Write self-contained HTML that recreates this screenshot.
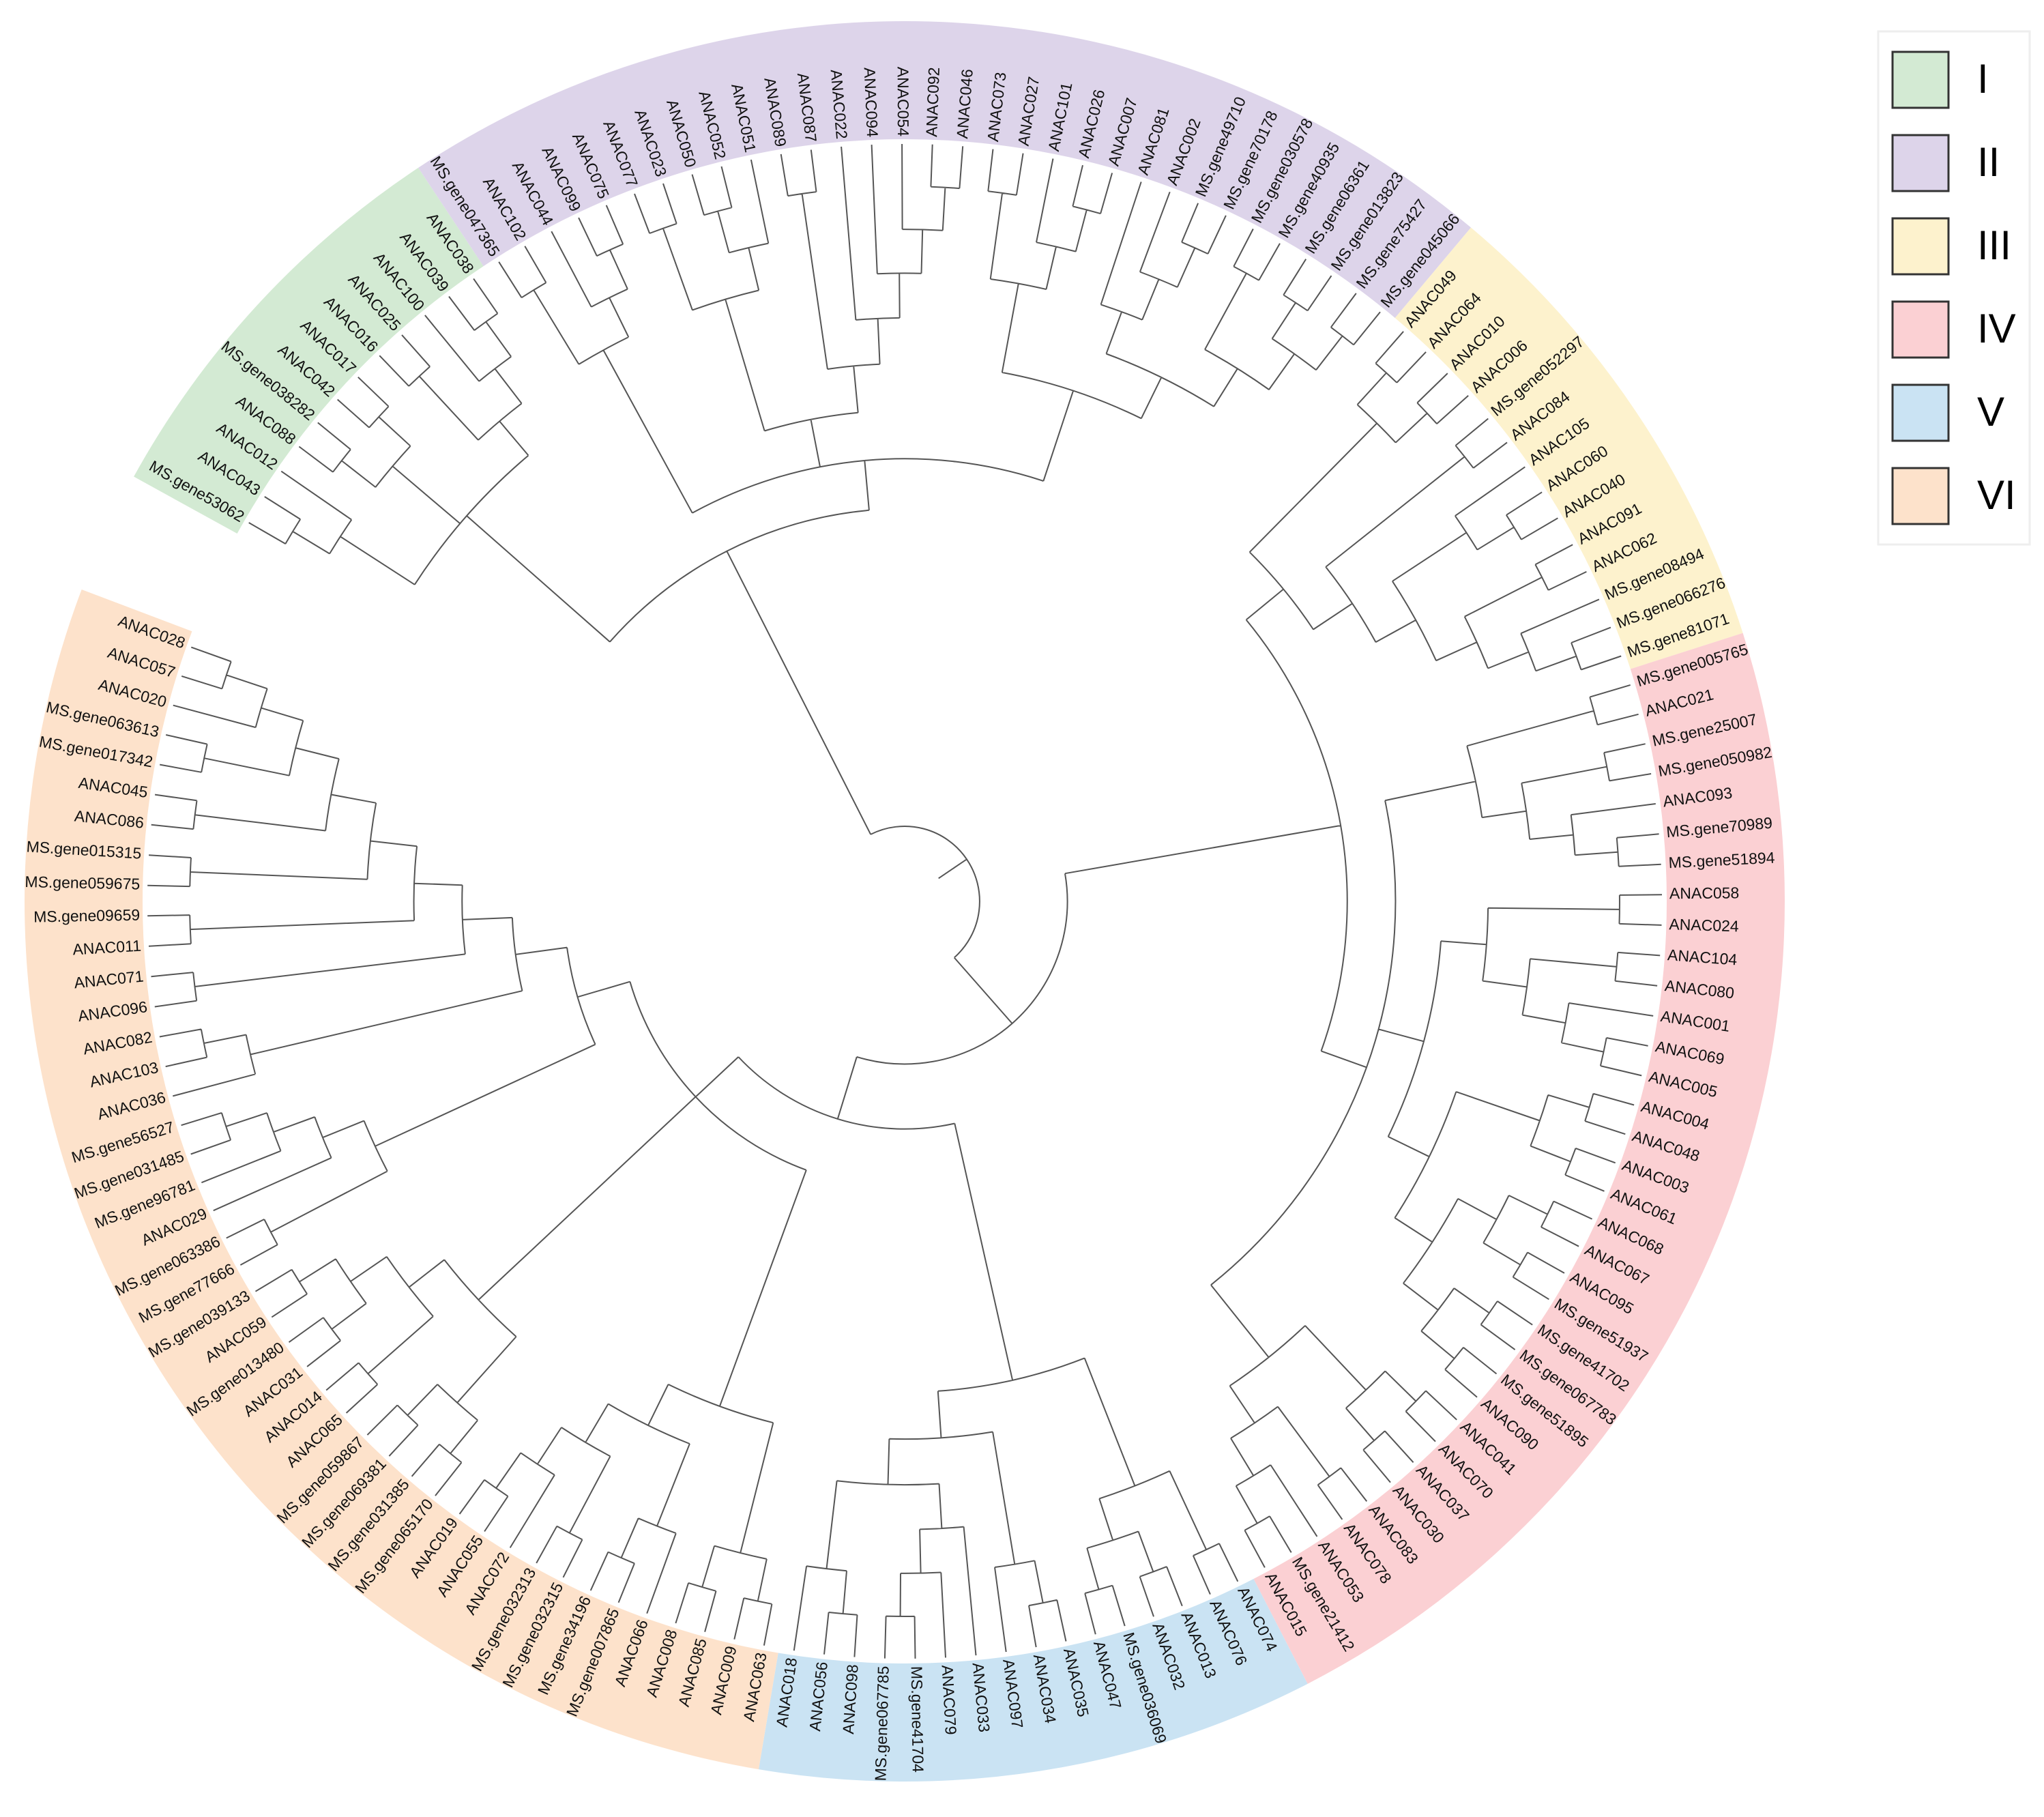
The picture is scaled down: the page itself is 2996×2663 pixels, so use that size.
<!DOCTYPE html>
<html><head><meta charset="utf-8"><style>
html,body{margin:0;padding:0;background:#fff;}
svg{display:block;}
text{font-family:"Liberation Sans",sans-serif;}
</style></head><body>
<svg id="tree" width="2996" height="2663" viewBox="0 0 2996 2663" xmlns="http://www.w3.org/2000/svg">
<g id="bands"></g>
<g id="branches"></g>
<g id="labels"></g>
<g id="legend">
<rect x="2753" y="46" width="222" height="752" fill="#fff" stroke="#eee" stroke-width="3"/>
</g>
</svg>
<script>
const groupNames = ["I","II","III","IV","V","VI"];
const groupColors = ["#d3ead3","#ddd4ea","#fdf2cd","#fbd0d3","#cae3f3","#fde2cb"];
const groupTrees = [
"(((MS.gene53062,ANAC043),ANAC012),((ANAC088,MS.gene038282),(ANAC042,ANAC017)),((ANAC016,ANAC025),(ANAC100,(ANAC039,ANAC038))))",
"(((MS.gene047365,ANAC102),(ANAC044,(ANAC099,ANAC075))),(((ANAC077,ANAC023),((ANAC050,ANAC052),ANAC051)),((ANAC089,ANAC087),(ANAC022,(ANAC094,(ANAC054,(ANAC092,ANAC046)))))),(((ANAC073,ANAC027),(ANAC101,(ANAC026,ANAC007))),((ANAC081,(ANAC002,(MS.gene49710,MS.gene70178))),((MS.gene030578,MS.gene40935),((MS.gene06361,MS.gene013823),(MS.gene75427,MS.gene045066))))))",
"(((ANAC049,ANAC064),(ANAC010,ANAC006)),((MS.gene052297,ANAC084),((ANAC105,(ANAC060,ANAC040)),((ANAC091,ANAC062),(MS.gene08494,(MS.gene066276,MS.gene81071))))))",
"(((MS.gene005765,ANAC021),((MS.gene25007,MS.gene050982),(ANAC093,(MS.gene70989,MS.gene51894)))),(((ANAC058,ANAC024),((ANAC104,ANAC080),(ANAC001,(ANAC069,ANAC005)))),(((ANAC004,ANAC048),(ANAC003,ANAC061)),(((ANAC068,ANAC067),(ANAC095,MS.gene51937)),((MS.gene41702,MS.gene067783),(MS.gene51895,ANAC090))))),(((ANAC041,ANAC070),(ANAC037,ANAC030)),((ANAC083,ANAC078),(ANAC053,(MS.gene21412,ANAC015)))))",
"(((ANAC074,ANAC076),((ANAC013,ANAC032),(MS.gene036069,ANAC047))),(((ANAC035,ANAC034),ANAC097),((ANAC033,(ANAC079,(MS.gene41704,MS.gene067785))),((ANAC098,ANAC056),ANAC018))))",
"((((ANAC063,ANAC009),(ANAC085,ANAC008)),((ANAC066,(MS.gene007865,MS.gene34196)),((MS.gene032315,MS.gene032313),(ANAC072,(ANAC055,ANAC019))))),(((MS.gene065170,MS.gene031385),(MS.gene069381,MS.gene059867)),((ANAC065,ANAC014),((ANAC031,MS.gene013480),(ANAC059,MS.gene039133)))),(((MS.gene77666,MS.gene063386),(ANAC029,(MS.gene96781,(MS.gene031485,MS.gene56527)))),((ANAC036,(ANAC103,ANAC082)),((ANAC096,ANAC071),((ANAC011,MS.gene09659),((MS.gene059675,MS.gene015315),((ANAC086,ANAC045),((MS.gene017342,MS.gene063613),(ANAC020,(ANAC057,ANAC028))))))))))"
];
const rootTopology = "((0,1),((2,3),(4,5)))";

const NS="http://www.w3.org/2000/svg";
const CX=1326, CY=1321, R_ROOT=110, R_LEAF=1110, R_IN=1117, R_OUT=1290;
const A_START=210, A_STEP=2.3;

function parse(s){let i=0;function node(){if(s[i]==='('){i++;const ch=[node()];while(s[i]===','){i++;ch.push(node());}i++;return {children:ch};}let n='';while(i<s.length&&!',()'.includes(s[i]))n+=s[i++];return {name:n};}return node();}
const groupParsed=groupTrees.map(parse);
function build(t){if(t.children)return {children:t.children.map(build)};const g=+t.name;return groupParsed[g];}
const root=build(parse(rootTopology));
const leaves=[];const leafGroup=[];
groupParsed.forEach((g,gi)=>{(function walk(n){if(n.children)n.children.forEach(walk);else{leaves.push(n);leafGroup.push(gi);}})(g);});
let idx=0;
function layout(n){if(!n.children){n.ang=A_START+idx*A_STEP;n.h=0;n.i=idx;idx++;return;}n.children.forEach(layout);n.h=1+Math.max(...n.children.map(c=>c.h));n.ang=(n.children[0].ang+n.children[n.children.length-1].ang)/2;}
layout(root);
const H=root.h;
function setR(n){n.r=R_ROOT+(R_LEAF-R_ROOT)*Math.pow(1-n.h/H,0.8);if(n.children)n.children.forEach(setR);}
setR(root);
function pt(r,a){const t=a*Math.PI/180;return [CX+r*Math.cos(t),CY+r*Math.sin(t)];}
const br=document.getElementById('branches');
let d='';
(function draw(n){if(!n.children)return;const a1=n.children[0].ang,a2=n.children[n.children.length-1].ang;const p1=pt(n.r,a1),p2=pt(n.r,a2);d+=`M${p1[0].toFixed(1)},${p1[1].toFixed(1)}A${n.r},${n.r} 0 ${a2-a1>180?1:0} 1 ${p2[0].toFixed(1)},${p2[1].toFixed(1)}`;n.children.forEach(c=>{const q1=pt(n.r,c.ang),q2=pt(c.r,c.ang);d+=`M${q1[0].toFixed(1)},${q1[1].toFixed(1)}L${q2[0].toFixed(1)},${q2[1].toFixed(1)}`;draw(c);});})(root);
const rp=pt(R_ROOT,root.ang);const rs=pt(R_ROOT-50,root.ang);
d+=`M${rs[0].toFixed(1)},${rs[1].toFixed(1)}L${rp[0].toFixed(1)},${rp[1].toFixed(1)}`;
const path=document.createElementNS(NS,'path');
path.setAttribute('d',d);path.setAttribute('fill','none');path.setAttribute('stroke','#555');path.setAttribute('stroke-width','2');


br.appendChild(path);
const bands=document.getElementById('bands');
groupNames.forEach((gn,gi)=>{const ids=leaves.map((l,k)=>leafGroup[k]===gi?l.i:null).filter(v=>v!==null);const a1=A_START+Math.min(...ids)*A_STEP-A_STEP/2,a2=A_START+Math.max(...ids)*A_STEP+A_STEP/2;const o1=pt(R_OUT,a1),o2=pt(R_OUT,a2),i1=pt(R_IN,a1),i2=pt(R_IN,a2);const lg=a2-a1>180?1:0;
const p=document.createElementNS(NS,'path');
p.setAttribute('d',`M${i1}L${o1}A${R_OUT},${R_OUT} 0 ${lg} 1 ${o2}L${i2}A${R_IN},${R_IN} 0 ${lg} 0 ${i1}Z`);
p.setAttribute('fill',groupColors[gi]);


bands.appendChild(p);});
const lab=document.getElementById('labels');
leaves.forEach(l=>{const a=((l.ang%360)+360)%360;const flip=a>90&&a<270;const p=pt(R_IN+4,l.ang);const t=document.createElementNS(NS,'text');
t.setAttribute('x',p[0].toFixed(1));t.setAttribute('y',p[1].toFixed(1));t.setAttribute('font-size','23');t.setAttribute('dominant-baseline','middle');t.setAttribute('fill','#111');
t.setAttribute('text-anchor',flip?'end':'start');
t.setAttribute('transform',`rotate(${flip?a+180:a} ${p[0].toFixed(1)} ${p[1].toFixed(1)})`);
t.textContent=l.name;


lab.appendChild(t);});
const lgd=document.getElementById('legend');
groupNames.forEach((gn,gi)=>{const y=76+gi*122;const r=document.createElementNS(NS,'rect');
r.setAttribute('x',2774);r.setAttribute('y',y);r.setAttribute('width',82);r.setAttribute('height',82);r.setAttribute('fill',groupColors[gi]);r.setAttribute('stroke','#333');r.setAttribute('stroke-width','3');


lgd.appendChild(r);
const t=document.createElementNS(NS,'text');t.setAttribute('x',2898);t.setAttribute('y',y+60);t.setAttribute('font-size','60');t.setAttribute('fill','#000');t.textContent=gn;


lgd.appendChild(t);});
</script>
</body></html>
